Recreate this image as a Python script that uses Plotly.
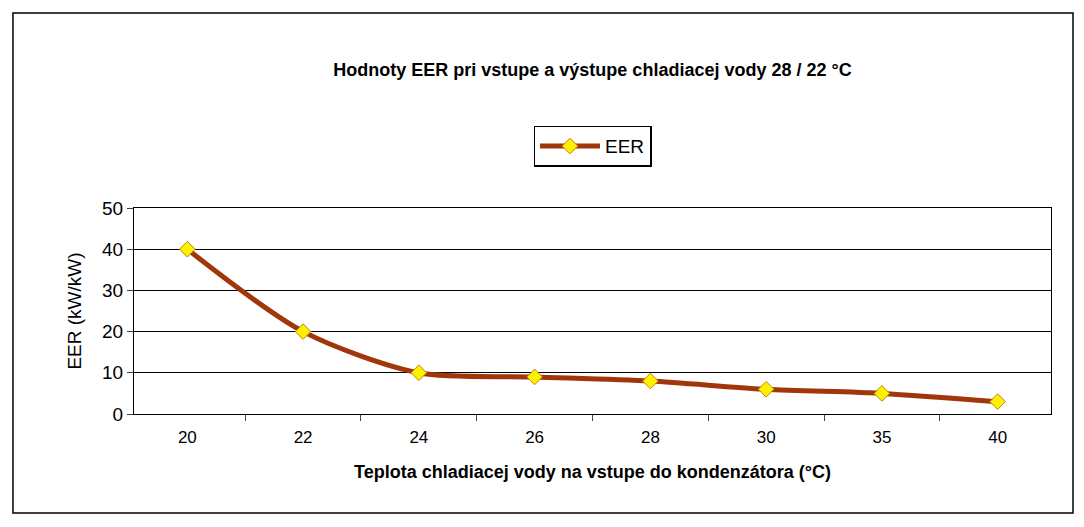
import plotly.graph_objects as go

categories = ["20", "22", "24", "26", "28", "30", "35", "40"]
eer = [40, 20, 10, 9, 8, 6, 5, 3]

fig = go.Figure(go.Scatter(
    x=categories, y=eer, name="EER", mode="lines+markers",
    line=dict(color="#A0360A", width=5, shape="spline", smoothing=0.8),
    marker=dict(symbol="diamond", size=12, color="#FFF000", line=dict(color="#B8860B", width=1)),
))
fig.update_layout(
    width=1084, height=527, paper_bgcolor="white", plot_bgcolor="white",
    margin=dict(l=126, r=41, t=200, b=121),
    font=dict(family="Liberation Sans, Arial", color="black"),
    title=dict(text="<b>Hodnoty EER pri vstupe a výstupe chladiacej vody 28 / 22 °C</b>",
               x=0.5, xref="paper", y=0.882, yanchor="middle", font=dict(size=18)),
    showlegend=True,
    legend=dict(orientation="h", x=0.5, xanchor="center", xref="paper", y=1.30, yanchor="middle",
                bordercolor="black", borderwidth=1.5, font=dict(size=19), itemwidth=60),
    shapes=[dict(type="rect", xref="paper", yref="paper", x0=-0.132, x1=1.024, y0=-0.48, y1=1.947,
                 line=dict(color="black", width=1.5))],
)
fig.update_xaxes(type="category", ticks="outside", ticklen=6, ticklabelstandoff=8,
                 tickson="boundaries", showline=True, linecolor="black", mirror=True,
                 tickfont=dict(size=17),
                 title=dict(text="<b>Teplota chladiacej vody na vstupe do kondenzátora (°C)</b>",
                            font=dict(size=18), standoff=18))
fig.update_yaxes(range=[0, 50], dtick=10, ticks="outside", ticklen=6, showgrid=True, gridcolor="black",
                 gridwidth=1, showline=True, linecolor="black", mirror=True, tickfont=dict(size=19),
                 title=dict(text="EER (kW/kW)", font=dict(size=19)), zeroline=False)
fig.write_html("out.html")
